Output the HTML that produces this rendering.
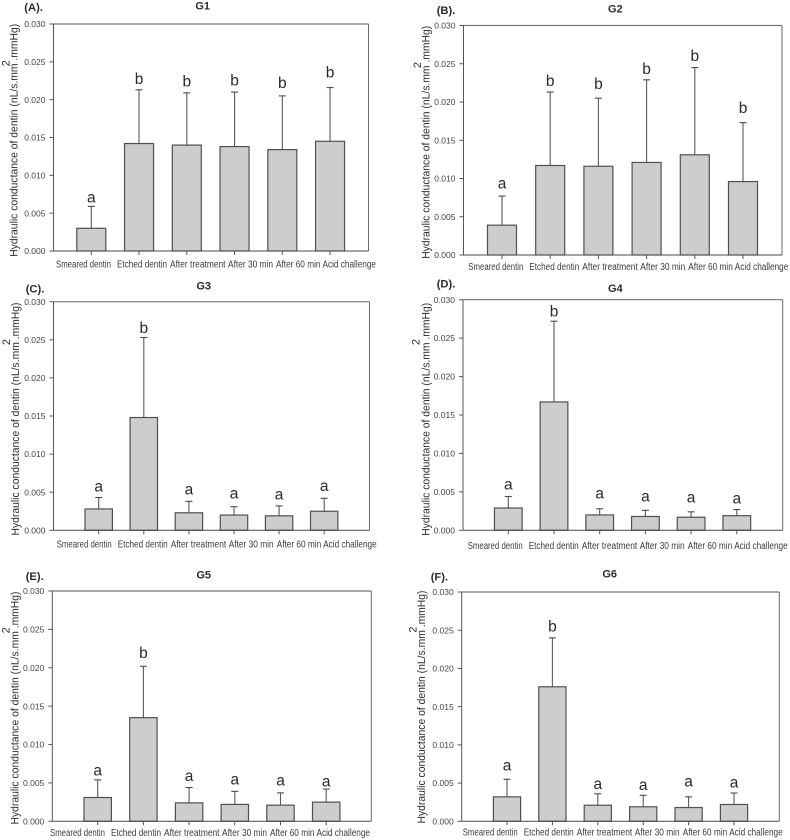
<!DOCTYPE html>
<html lang="en">
<head>
<meta charset="utf-8">
<title>Hydraulic conductance of dentin, groups G1 to G6</title>
<style>
  html, body { margin: 0; padding: 0; background: #fff; }
  svg { display: block; font-family: "Liberation Sans", Arial, sans-serif; }
  text { white-space: pre; }
</style>
</head>
<body>
<svg id="figure" width="790" height="840" viewBox="0 0 790 840" xmlns="http://www.w3.org/2000/svg"></svg>
<script>
const categories = ['Smeared dentin', 'Etched dentin', 'After treatment', 'After 30 min', 'After 60 min', 'Acid challenge'];
const yTickValues = [0, 0.005, 0.01, 0.015, 0.02, 0.025, 0.03];
const yTickLabels = ['0.000', '0.005', '0.010', '0.015', '0.020', '0.025', '0.030'];
const yMax = 0.03;
const yTitle = 'Hydraulic conductance of dentin (nL/s.mm .mmHg)';

const g1Means = [0.0030, 0.0142, 0.0140, 0.0138, 0.0134, 0.0145];
const g1Errors = [0.0029, 0.0071, 0.0069, 0.0072, 0.0071, 0.0071];
const g1Letters = ['a', 'b', 'b', 'b', 'b', 'b'];

const g2Means = [0.0039, 0.0117, 0.0116, 0.0121, 0.0131, 0.0096];
const g2Errors = [0.0038, 0.0096, 0.0089, 0.0108, 0.0114, 0.0077];
const g2Letters = ['a', 'b', 'b', 'b', 'b', 'b'];

const g3Means = [0.0028, 0.0148, 0.0023, 0.0020, 0.0019, 0.0025];
const g3Errors = [0.0015, 0.0105, 0.0015, 0.0011, 0.0013, 0.0017];
const g3Letters = ['a', 'b', 'a', 'a', 'a', 'a'];

const g4Means = [0.0029, 0.0167, 0.0020, 0.0018, 0.0017, 0.0019];
const g4Errors = [0.0015, 0.0105, 0.0008, 0.0008, 0.0007, 0.0008];
const g4Letters = ['a', 'b', 'a', 'a', 'a', 'a'];

const g5Means = [0.0031, 0.0135, 0.0024, 0.0022, 0.0021, 0.0025];
const g5Errors = [0.0023, 0.0067, 0.0020, 0.0017, 0.0016, 0.0017];
const g5Letters = ['a', 'b', 'a', 'a', 'a', 'a'];

const g6Means = [0.0032, 0.0176, 0.0021, 0.0019, 0.0018, 0.0022];
const g6Errors = [0.0023, 0.0064, 0.0015, 0.0015, 0.0014, 0.0015];
const g6Letters = ['a', 'b', 'a', 'a', 'a', 'a'];

/* Layout only: letter gaps and label spans, kept apart from the data. */
const layoutLetterGaps = {
  G1: [4, 5.6, 6.4, 6.6, 8, 10],
  G2: [7.7, 5.9, 9, 6, 6.4, 9.6],
  G3: [5.9, 4.5, 6.7, 8.4, 6.2, 7.3],
  G4: [6.8, 4.5, 10.2, 8.7, 9.5, 6.2],
  G5: [4.5, 8.2, 6.5, 6.8, 7.6, 2.8],
  G6: [8.6, 6.2, 4.8, 5.4, 10.2, 5.4]
};
const layoutLabelOffsets = [0, 61, 114, 172, 220, 266.5];
const layoutLabelWidths = [55, 50, 55.5, 45, 44.5, 53.5];

const panels = [
  { id: 'G1', tag: '(A).', means: g1Means, errors: g1Errors, letters: g1Letters,
    left: 53.5, right: 368.5, top: 24, bottom: 251, c0: 91.3, step: 47.75, barW: 29,
    labelX: 56, labelDy: 16.5, titleX: 202.7, titleY: 9.7, tagX: 24.3, tagY: 11,
    yTitleX: 17.3, yTitleCy: 140.3, supX: 9.3, supY: 63.3, topColor: '#8a8a8a', topW: 1.6 },
  { id: 'G2', tag: '(B).', means: g2Means, errors: g2Errors, letters: g2Letters,
    left: 463.5, right: 782, top: 25.5, bottom: 255, c0: 502, step: 48.2, barW: 29,
    labelX: 468.3, labelDy: 15, titleX: 615.3, titleY: 12.3, tagX: 436.7, tagY: 14,
    yTitleX: 429.3, yTitleCy: 142.3, supX: 421, supY: 65, topColor: '#777', topW: 1.2 },
  { id: 'G3', tag: '(C).', means: g3Means, errors: g3Errors, letters: g3Letters,
    left: 53.5, right: 369.5, top: 301.7, bottom: 530.3, c0: 98.7, step: 45.1, barW: 27.4,
    labelX: 56.7, labelDy: 17, titleX: 203.7, titleY: 289.7, tagX: 25.7, tagY: 292.3,
    yTitleX: 19, yTitleCy: 419, supX: 10, supY: 342, topColor: '#666', topW: 1 },
  { id: 'G4', tag: '(D).', means: g4Means, errors: g4Errors, letters: g4Letters,
    left: 463, right: 782.7, top: 299.7, bottom: 530.3, c0: 508.3, step: 45.7, barW: 27.7,
    labelX: 467.7, labelDy: 18.7, titleX: 615.3, titleY: 292, tagX: 436.7, tagY: 287.7,
    yTitleX: 429.7, yTitleCy: 419.3, supX: 419.7, supY: 342, topColor: '#777', topW: 1.2 },
  { id: 'G5', tag: '(E).', means: g5Means, errors: g5Errors, letters: g5Letters,
    left: 52.3, right: 371.3, top: 591, bottom: 821.3, c0: 97.7, step: 45.7, barW: 27.4,
    labelX: 50, labelDy: 14.7, titleX: 203.7, titleY: 578.7, tagX: 25.7, tagY: 580,
    yTitleX: 18.7, yTitleCy: 708, supX: 9.5, supY: 630.3, topColor: '#777', topW: 1.2 },
  { id: 'G6', tag: '(F).', means: g6Means, errors: g6Errors, letters: g6Letters,
    left: 461.7, right: 779.3, top: 592, bottom: 821.3, c0: 507, step: 45.4, barW: 27.2,
    labelX: 462.7, labelDy: 14, titleX: 609.7, titleY: 577.7, tagX: 430.7, tagY: 580.7,
    yTitleX: 425, yTitleCy: 707, supX: 416.7, supY: 629.7, topColor: '#8a8a8a', topW: 1.6 }
];

const SVG_NS = 'http://www.w3.org/2000/svg';
const root = document.getElementById('figure');

function shape(parent, tag, attrs) {
  const el = document.createElementNS(SVG_NS, tag);
  Object.keys(attrs).forEach(function (k) { el.setAttribute(k, attrs[k]); });
  parent.appendChild(el);
  return el;
}
function label(parent, str, attrs) {
  const el = shape(parent, 'text', attrs);
  el.textContent = str;
  return el;
}

panels.forEach(function (p) {
  const key = p.id.toLowerCase();
  const yScale = function (v) { return p.bottom - (v / yMax) * (p.bottom - p.top); };
  const xScale = function (i) { return p.c0 + i * p.step; };

  const g = shape(root, 'g', {});
  
  

  const tagText = label(g, p.tag, { x: p.tagX, y: p.tagY, 'font-size': 11.2, 'font-weight': 'bold', fill: '#2b2b2b' });
  
  

  const titleText = label(g, p.id, { x: p.titleX, y: p.titleY, 'font-size': 11, 'font-weight': 'bold', fill: '#2b2b2b', 'text-anchor': 'middle' });
  
  

  /* Bars first, so the frame and axis sit on top. */
  p.means.forEach(function (v, i) {
    const cx = xScale(i);
    const upper = v + p.errors[i];

    const stem = shape(g, 'line', { x1: cx, x2: cx, y1: yScale(v), y2: yScale(upper), stroke: '#5a5a5a', 'stroke-width': 1.1 });
    
    

    const cap = shape(g, 'line', { x1: cx - 3.5, x2: cx + 3.5, y1: yScale(upper), y2: yScale(upper), stroke: '#4a4a4a', 'stroke-width': 1.1 });
    
    

    const bar = shape(g, 'rect', { x: cx - p.barW / 2, y: yScale(v), width: p.barW, height: p.bottom - yScale(v), fill: '#cdcdcd', stroke: '#505050', 'stroke-width': 1.2 });
    
    

    const letter = label(g, p.letters[i], { x: cx, y: yScale(upper) - layoutLetterGaps[p.id][i], 'font-size': 15.5, fill: '#2a2a2a', 'text-anchor': 'middle' });
    
    

    const tick = shape(g, 'line', { x1: cx, x2: cx, y1: p.bottom, y2: p.bottom + 4, stroke: '#555', 'stroke-width': 1 });
    
    

    const cat = label(g, categories[i], { x: p.labelX + layoutLabelOffsets[i], y: p.bottom + p.labelDy, 'font-size': 10, fill: '#3c3c3c', textLength: layoutLabelWidths[i], lengthAdjust: 'spacingAndGlyphs' });
    
    
  });

  const rightEdge = shape(g, 'line', { x1: p.right, x2: p.right, y1: p.top, y2: p.bottom, stroke: '#6a6a6a', 'stroke-width': 1 });
  
  

  const topEdge = shape(g, 'line', { x1: p.left, x2: p.right, y1: p.top, y2: p.top, stroke: p.topColor, 'stroke-width': p.topW });
  
  

  const yAxis = shape(g, 'line', { x1: p.left, x2: p.left, y1: p.top, y2: p.bottom, stroke: '#555', 'stroke-width': 1 });
  
  

  const xAxis = shape(g, 'line', { x1: p.left, x2: p.right, y1: p.bottom, y2: p.bottom, stroke: '#4a4a4a', 'stroke-width': 1 });
  
  

  yTickValues.forEach(function (v, i) {
    const ty = yScale(v);
    const tick = shape(g, 'line', { x1: p.left - 4, x2: p.left, y1: ty, y2: ty, stroke: '#555', 'stroke-width': 1 });
    
    

    const tl = label(g, yTickLabels[i], { x: p.left - 8, y: ty + 3.1, 'font-size': 8.5, fill: '#444', 'text-anchor': 'end' });
    
    
  });

  const yt = label(g, yTitle, { x: 0, y: 0, 'font-size': 11, fill: '#2e2e2e', 'text-anchor': 'middle', textLength: 233, lengthAdjust: 'spacingAndGlyphs', transform: 'translate(' + p.yTitleX + ' ' + p.yTitleCy + ') rotate(-90)' });
  
  

  const sup = label(g, '2', { x: 0, y: 0, 'font-size': 11, fill: '#2e2e2e', 'text-anchor': 'middle', transform: 'translate(' + p.supX + ' ' + p.supY + ') rotate(-90)' });
  
  
});
</script>
</body>
</html>
